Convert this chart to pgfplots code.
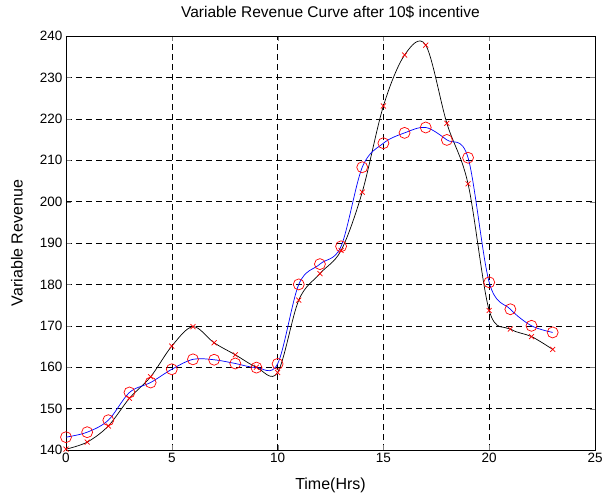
\documentclass[border=0pt]{standalone}
\usepackage{pgfplots}
\pgfplotsset{compat=1.18}
\usepackage{fontspec}
\setmainfont{Liberation Sans}

% values, hourly
\pgfplotstableread{
t  fixed  var
0  143.1  140.2
1  144.3  141.9
2  147.2  145.8
3  153.9  152.5
4  156.3  157.7
5  159.5  165.1
6  161.9  169.8
7  161.8  165.9
8  160.9  163.0
9  159.9  160.0
10 160.8  158.7
11 180.0  176.2
12 184.9  182.6
13 189.2  188.2
14 208.3  202.3
15 214.1  223.1
16 216.6  235.4
17 217.9  237.8
18 214.9  218.9
19 210.6  204.3
20 180.5  173.7
21 174.0  169.2
22 170.0  167.4
23 168.4  164.3
}\revtab

\begin{document}
\begin{tikzpicture}
\begin{axis}[
  name=ax,
  scale only axis,
  width=529pt, height=414pt,
  xmin=0, xmax=25, ymin=140, ymax=240,
  xtick={0,5,...,25}, ytick={140,150,...,240},
  tick align=inside,
  major tick length=5pt,
  grid=major,
  grid style={black, dash pattern=on 6pt off 4pt, line width=0.5pt},
  axis line style={line width=0.8pt},
  /pgf/number format/assume math mode=true,
  tick label style={font=\fontsize{13.5}{15}\selectfont},
  title={Variable Revenue Curve after 10\$ incentive},
  title style={font=\fontsize{15.5}{18}\selectfont, at={(axis description cs:0.5,1)}, anchor=center, yshift=18pt},
  xlabel={Time(Hrs)},
  xlabel style={font=\fontsize{16}{18}\selectfont, at={(axis description cs:0.5,0)}, anchor=center, yshift=-35pt},
  ylabel={Variable Revenue},
  ylabel style={font=\fontsize{16}{18}\selectfont, at={(axis description cs:-0.0926,0.5)}, anchor=center},
]
\addplot[black, line width=0.7pt, smooth, tension=0.55] table[x=t, y=var] {\revtab};
\addplot[blue, line width=0.7pt, smooth, tension=0.55] table[x=t, y=fixed] {\revtab};
\addplot[only marks, red, mark=x, mark size=3.5pt, mark options={line width=0.7pt}] table[x=t, y=var] {\revtab};
\addplot[only marks, red, mark=o, mark size=5.5pt, mark options={line width=0.7pt}] table[x=t, y=fixed] {\revtab};
\end{axis}
\pgfresetboundingbox
\useasboundingbox ([shift={(-66pt,-43pt)}]ax.south west) rectangle ([shift={(9pt,36pt)}]ax.north east);
\end{tikzpicture}
\end{document}
